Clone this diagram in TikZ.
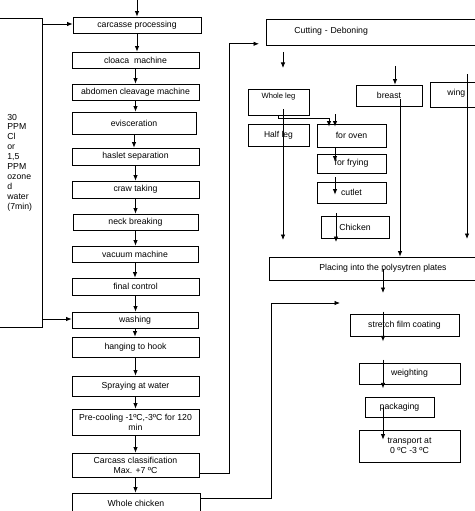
\documentclass[tikz,border=0pt]{standalone}
\usepackage{fontspec}
\setmainfont{Liberation Sans}
\usetikzlibrary{arrows.meta}

\begin{document}
\begin{tikzpicture}[x=1pt,y=-1pt,line width=0.8pt,
    stepbox/.style={rectangle,draw,minimum width=127pt,inner sep=1pt,align=center,font=\fontsize{8.7}{10}\selectfont},
    flow/.style={-{Latex[length=5.5pt,width=4.5pt]}}]
    \useasboundingbox (0,0) rectangle (474,511);

    \node[stepbox,minimum height=16pt,minimum width=128pt](carc) at (137,25){carcasse processing};
    \node[stepbox,minimum height=16pt](cloaca) at (135.5,60){cloaca \ machine};
    \node[stepbox,minimum height=16pt](abd) at (135.5,92){abdomen cleavage machine};
    \node[stepbox,minimum height=22pt,minimum width=124pt](evis) at (134,123){evisceration};
    \node[stepbox,minimum height=17pt](haslet) at (135.5,156.5){haslet separation};
    \node[stepbox,minimum height=17pt](craw) at (135.5,189.5){craw taking};
    \node[stepbox,minimum height=16pt,minimum width=125pt](neck) at (135.5,222){neck breaking};
    \node[stepbox,minimum height=16pt,minimum width=126pt](vac) at (135,254){vacuum machine};
    \node[stepbox,minimum height=17pt](final) at (135.5,286.5){final control};
    \node[stepbox,minimum height=16pt,minimum width=126pt](wash) at (135,320){washing};
    \node[stepbox,minimum height=20pt](hang) at (135.5,347){hanging to hook};
    \node[stepbox,minimum height=20pt](spray) at (135.5,386){Spraying at water};
    \node[stepbox,minimum height=26pt](precool) at (135.5,422){Pre-cooling -1ºC,-3ºC for 120\\min};
    \node[stepbox,minimum height=24pt](cls) at (135.5,465){Carcass classification\\Max. +7 ºC};
    \node[stepbox,minimum height=20pt,minimum width=128pt](wc) at (136,503){Whole chicken};

    \node[font=\fontsize{8.7}{9.9}\selectfont,align=left,anchor=west,inner sep=0](dose) at (7,162.5)
        {30\\PPM\\Cl\\or\\1,5\\PPM\\ozone\\d\\water\\(7min)};
    \draw (0,18) -| (42,327) -- (0,327);
    \coordinate (l1) at (42,24);
    \coordinate (l2) at (42,319);
    \coordinate (in) at (137,0);
    \draw[flow](l1)--(carc.west |- l1);
    \draw[flow](l2)--(wash.west |- l2);
    \draw[flow](in)--(carc.north);

    \foreach \a/\b in {carc/cloaca,cloaca/abd,abd/evis,evis/haslet,haslet/craw,craw/neck,neck/vac,vac/final,final/wash,wash/hang,hang/spray,spray/precool,precool/cls,cls/wc}
        \draw[flow](\a.south)--(\a.south |- \b.north);

    \node[stepbox,anchor=north west,minimum height=26pt,text width=158pt,inner xsep=28pt,align=left,text depth=5pt](cut) at (266,19){Cutting - Deboning};
    \node[stepbox,minimum width=61pt,minimum height=26pt,text depth=13pt,font=\fontsize{7.6}{9}\selectfont](wleg) at (278.5,102){Whole leg};
    \node[stepbox,minimum width=61pt,minimum height=22pt,font=\fontsize{8.5}{10}\selectfont](hleg) at (278.5,135){Half leg};
    \node[stepbox,minimum width=69pt,minimum height=23pt](oven) at (351.5,135.5){for oven};
    \node[stepbox,minimum width=69pt,minimum height=19pt](fry) at (351.5,163.5){for frying};
    \node[stepbox,minimum width=69pt,minimum height=21pt](cutlet) at (351.5,192.5){cutlet};
    \node[stepbox,minimum width=68pt,minimum height=22pt](chick) at (355,227){Chicken};
    \node[stepbox,minimum width=66pt,minimum height=21pt](breast) at (389,95.5){breast};
    \node[stepbox,anchor=north west,minimum width=0pt,minimum height=25pt,text width=20pt,inner xsep=17pt,align=left,text depth=5pt](wing) at (430,82){wing};
    \node[stepbox,minimum width=228pt,minimum height=23pt](place) at (383,268.5){Placing into the polysytren plates};
    \node[stepbox,minimum width=109pt,minimum height=22pt](stretch) at (404.5,325){stretch film coating};
    \node[stepbox,minimum width=101pt,minimum height=21pt](weigh) at (409.5,373.5){weighting};
    \node[stepbox,minimum width=69pt,minimum height=20pt](pack) at (399.5,407){packaging};
    \node[stepbox,minimum width=101pt,minimum height=32pt](trans) at (409.5,446){transport at\\0 ºC -3 ºC};

    \draw[flow,shorten >=7pt]([yshift=4pt]cls.south east)--++(30,0)|-([yshift=2pt]cut.south west);
    \coordinate (wcend) at (340,303);
    \draw[flow]([yshift=5pt]wc.east)--++(71,0)|-(wcend);

    \coordinate (c1) at (283,52);
    \coordinate (c2) at (283,68);
    \coordinate (c3) at (335,114);
    \coordinate (c4) at (283,240);
    \coordinate (c5) at (336,213);
    \coordinate (c6) at (336,242);
    \coordinate (c7) at (395,66);
    \coordinate (c8) at (467,74);
    \coordinate (c9) at (467,239);
    \coordinate (c10) at (383,293);
    \draw[flow](c1)--(c2);
    \draw[flow](wleg.south)--++(0,3)-|([xshift=-22.5pt,yshift=-3pt]oven.north);
    \draw[flow](c3)--([xshift=-16.5pt,yshift=-3pt]oven.north);
    \draw[flow]([xshift=4.5pt,yshift=6pt]wleg.south)--(c4);
    \draw[flow]([xshift=-16.5pt]oven.south)--([xshift=-16.5pt,yshift=-8pt]fry.north);
    \draw[flow]([xshift=-16.5pt,yshift=-4pt]fry.south)--([xshift=-16.5pt,yshift=-13pt]cutlet.north);
    \draw[flow](c5)--(c6);
    \draw[flow](c7)--([xshift=6pt]breast.north);
    \draw[flow]([xshift=11pt,yshift=-3.5pt]breast.center)--([xshift=17pt]place.north);
    \draw[flow](c8)--(c9);
    \draw[flow](place.center)--(c10);
    \draw[flow]([xshift=-21.5pt,yshift=2pt]stretch.north)--([xshift=-21.5pt,yshift=-5pt]stretch.south);
    \draw[flow]([xshift=-26.5pt,yshift=3pt]weigh.north)--([xshift=-26.5pt,yshift=-4pt]weigh.south);
    \draw[flow]([xshift=-16.5pt]pack.center)--([xshift=-26.5pt,yshift=-10pt]trans.north);
\end{tikzpicture}
\end{document}
